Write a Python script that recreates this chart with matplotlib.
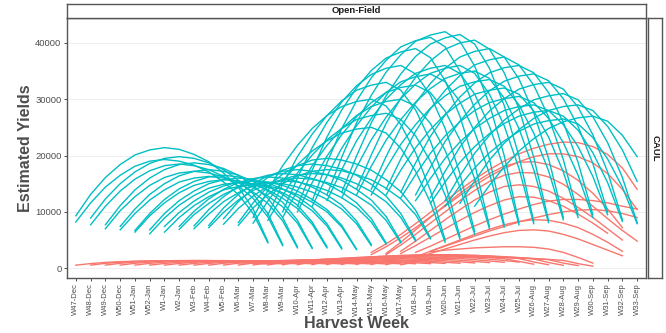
import matplotlib
matplotlib.use("Agg")
import matplotlib.pyplot as plt

weeks = ["W47-Dec","W48-Dec","W49-Dec","W50-Dec","W51-Jan","W52-Jan","W1-Jan","W2-Jan",
         "W3-Feb","W4-Feb","W5-Feb","W6-Mar","W7-Mar","W8-Mar","W9-Mar","W10-Apr","W11-Apr",
         "W12-Apr","W13-Apr","W14-May","W15-May","W16-May","W17-May","W18-Jun","W19-Jun",
         "W20-Jun","W21-Jun","W22-Jul","W23-Jul","W24-Jul","W25-Jul","W26-Aug","W27-Aug",
         "W28-Aug","W29-Aug","W30-Sep","W31-Sep","W32-Sep","W33-Sep"]
y_ticks = [0, 10000, 20000, 30000, 40000]

# ---- teal series (start week, weekly estimated yields) ----
t_w47_a = [9300,13100,16100,18400,20100,21000,21400,21100,20200,18900,16900,14400,10500,4700]
t_w47_b = [8200,11600,14400,16500,18100,19000,19300,19000,18300,17100,15300,13100,9700,4500]
t_w48_a = [8900,12300,15000,17100,18600,19500,19800,19500,18700,17500,15600,13200,9700,4200]
t_w48_b = [7700,11000,13700,15800,17300,18200,18500,18200,17500,16300,14600,12400,9100,4000]
t_w49_a = [7700,11100,13900,16000,17500,18400,18700,18400,17700,16500,14700,12400,9000,3800]
t_w49_b = [7000,10200,12700,14700,16100,16900,17200,16900,16200,15200,13500,11500,8400,3600]
t_w50_a = [7400,10500,13100,15000,16400,17200,17500,17200,16500,15400,13700,11700,8500,3600]
t_w50_b = [6800,9700,12100,13900,15300,16000,16300,16000,15400,14400,12800,10900,8000,3500]
t_w51_a = [6700,9700,12200,14100,15400,16200,16500,16200,15600,14600,13100,11200,8200,3800]
t_w51_b = [6400,9300,11600,13400,14700,15400,15700,15500,14900,13900,12400,10600,7800,3600]
t_w52_a = [6800,9700,12000,13700,15000,15700,16000,15800,15100,14100,12700,10800,7900,3600]
t_w52_b = [6100,8900,11200,12900,14200,14900,15200,15000,14400,13400,12000,10200,7500,3400]
t_w1_a = [7400,9900,11900,13500,14600,15300,15500,15300,14700,13700,12200,10400,7600,3400]
t_w1_b = [6400,9000,11100,12700,13900,14500,14800,14600,14000,13100,11700,10000,7300,3300]
t_w2_a = [7400,10100,12300,14000,15200,15900,16200,16000,15400,14400,13000,11200,8400,4200]
t_w2_b = [6900,9500,11500,13100,14300,15000,15200,15000,14400,13500,12200,10500,7900,4000]
t_w3_a = [7500,10400,12700,14500,15800,16500,16800,16600,15900,15000,13500,11600,8800,4500]
t_w3_b = [7000,9600,11800,13400,14600,15200,15500,15300,14700,13800,12500,10800,8200,4300]
t_w4_a = [7600,10700,13100,15000,16400,17200,17500,17200,16600,15600,14000,12100,9200,4700]
t_w4_b = [7200,9900,12100,13800,15000,15700,16000,15800,15200,14300,12900,11200,8500,4500]
t_w5_a = [8800,11800,14200,16100,17400,18200,18500,18200,17600,16500,14900,12800,9700,5000]
t_w5_b = [7800,10600,12800,14600,15800,16500,16800,16600,16000,15000,13600,11800,9000,4800]
t_w6_a = [8100,11600,14500,16700,18200,19200,19500,19200,18500,17400,15700,13600,10300,5400]
t_w6_b = [7600,10700,13100,15000,16400,17200,17500,17300,16600,15700,14200,12300,9500,5200]
t_w7_a = [9000,13800,18200,21800,24800,27100,28700,29600,30000,28800,25500,20500,13800,5000]
t_w7_b = [8000,11900,15500,18400,20800,22600,24000,24700,25000,24000,21300,17200,11700,4600]
t_w8_a = [9500,14900,19800,23800,27100,29700,31600,32500,33000,31600,28100,22600,15200,5600]
t_w8_b = [8500,12900,16900,20100,22800,24800,26400,27100,27500,26400,23500,19000,13000,5200]
t_w9_a = [10000,16000,21400,25900,29500,32400,34400,35500,36000,34500,30700,24800,16800,6500]
t_w9_b = [9000,13800,18200,21800,24800,27100,28700,29600,30000,28800,25700,20900,14400,6000]
t_w10_a = [11000,17400,23300,28100,32000,35100,37300,38400,39000,37400,33300,27000,18500,7400]
t_w10_b = [10000,15200,19900,23700,26900,29400,31200,32100,32500,31200,27900,22800,15900,7000]
t_w11_a = [12000,18700,24800,29700,33800,36900,39300,40400,41000,39300,35000,28300,19400,7700]
t_w11_b = [11000,16400,21300,25300,28600,31200,33100,34000,34500,33100,29600,24200,16800,7300]
t_w12_a = [13000,19700,25800,30700,34800,37900,40300,41400,42000,40300,35900,29100,20000,8100]
t_w12_b = [12000,17500,22600,26600,30000,32600,34600,35500,36000,34600,30900,25200,17600,7700]
t_w13_a = [13500,19900,25800,30600,34500,37600,39800,40900,41500,39800,35500,28900,19900,8300]
t_w13_b = [12500,17900,22800,26800,30100,32700,34600,35500,36000,34600,30900,25300,17700,7900]
t_w14_a = [14000,20100,25700,30200,33900,36800,38900,40000,40500,38900,34700,28300,19700,8500]
t_w14_b = [13000,18100,22700,26400,29500,31900,33700,34600,35000,33700,30200,24800,17500,8100]
t_w15_a = [14000,19800,25000,29300,32800,35500,37500,38500,39000,37500,33600,27600,19500,9000]
t_w15_b = [13000,17700,22000,25500,28400,30600,32300,33100,33500,32300,29000,24000,17300,8600]
t_w16_a = [14000,19400,24300,28300,31600,34200,36100,37000,37500,36100,32500,26900,19300,9500]
t_w16_b = [13000,17400,21400,24600,27300,29300,30900,31600,32000,30900,27900,23300,17100,9000]
t_w17_a = [13500,18700,23400,27200,30400,32900,34700,35600,36000,34700,31200,25900,18800,9500]
t_w17_b = [12500,16600,20400,23500,26000,28000,29400,30100,30500,29400,26600,22300,16500,9000]
t_w18_a = [13000,17900,22500,26100,29100,31500,33200,34100,34500,33300,30100,25200,18600,10000]
t_w18_b = [12000,15900,19500,22400,24800,26600,28000,28700,29000,28000,25500,21600,16300,9500]
t_w19_a = [12500,17200,21500,25000,27900,30100,31800,32600,33000,31800,28600,23700,17100,8600]
t_w19_b = [11500,15300,18800,21600,23900,25700,27000,27700,28000,27000,24500,20500,15200,8300]
t_w20_a = [12000,16400,20400,23600,26300,28300,29900,30600,31000,29900,26900,22300,16100,8100]
t_w20_b = [11000,14600,17800,20500,22600,24300,25600,26200,26500,25600,23200,19400,14400,7900]
t_w21_a = [11500,15500,19200,22200,24600,26600,28000,28700,29000,28000,25200,21000,15400]
t_w22_a = [11000,14700,18000,20800,23000,24800,26000,26700,27000,26100,23600,19800]

teal_series = [
    ("W47-Dec", t_w47_a), ("W47-Dec", t_w47_b), ("W48-Dec", t_w48_a), ("W48-Dec", t_w48_b),
    ("W49-Dec", t_w49_a), ("W49-Dec", t_w49_b), ("W50-Dec", t_w50_a), ("W50-Dec", t_w50_b),
    ("W51-Jan", t_w51_a), ("W51-Jan", t_w51_b), ("W52-Jan", t_w52_a), ("W52-Jan", t_w52_b),
    ("W1-Jan", t_w1_a), ("W1-Jan", t_w1_b), ("W2-Jan", t_w2_a), ("W2-Jan", t_w2_b),
    ("W3-Feb", t_w3_a), ("W3-Feb", t_w3_b), ("W4-Feb", t_w4_a), ("W4-Feb", t_w4_b),
    ("W5-Feb", t_w5_a), ("W5-Feb", t_w5_b), ("W6-Mar", t_w6_a), ("W6-Mar", t_w6_b),
    ("W7-Mar", t_w7_a), ("W7-Mar", t_w7_b), ("W8-Mar", t_w8_a), ("W8-Mar", t_w8_b),
    ("W9-Mar", t_w9_a), ("W9-Mar", t_w9_b), ("W10-Apr", t_w10_a), ("W10-Apr", t_w10_b),
    ("W11-Apr", t_w11_a), ("W11-Apr", t_w11_b), ("W12-Apr", t_w12_a), ("W12-Apr", t_w12_b),
    ("W13-Apr", t_w13_a), ("W13-Apr", t_w13_b), ("W14-May", t_w14_a), ("W14-May", t_w14_b),
    ("W15-May", t_w15_a), ("W15-May", t_w15_b), ("W16-May", t_w16_a), ("W16-May", t_w16_b),
    ("W17-May", t_w17_a), ("W17-May", t_w17_b), ("W18-Jun", t_w18_a), ("W18-Jun", t_w18_b),
    ("W19-Jun", t_w19_a), ("W19-Jun", t_w19_b), ("W20-Jun", t_w20_a), ("W20-Jun", t_w20_b),
    ("W21-Jun", t_w21_a), ("W22-Jul", t_w22_a),
]

# ---- salmon series: large curves ----
s_big_1 = [2800,4300,6000,7900,9900,11900,13900,15800,17500,19000,20300,21300,22000,22400,22300,21600,20200,17800,14000]
s_big_2 = [2400,3800,5400,7200,9100,11000,12900,14700,16300,17700,18900,19800,20300,20300,19800,18700,16800,14000,10400]
s_big_3 = [2600,4600,6800,9000,11200,13300,15200,16800,18100,18800,18900,18400,17300,15600,13300,10500,7200]
s_big_4 = [2400,4100,6000,8000,10000,12000,13800,15400,16500,17000,16900,16200,14900,13100,11000,8800,6700,4800]
s_big_5 = [3000,4800,6700,8600,10400,12100,13500,14500,14800,14500,13700,12400,10800,9000,7000,5000]
s_big_6 = [2600,4000,5500,7000,8500,9900,11100,12100,12700,12600,12000,11000,9600,8000,6200]
s_big_7 = [2800,3900,5100,6300,7500,8600,9600,10500,11300,11900,12200,12200,12000,11600,11000,10500]
s_big_8 = [3000,3900,4800,5700,6600,7400,8200,8900,9500,10000,10300,10400,10200,9700,9000]
s_big_9 = [2000,3000,4000,5000,6000,6900,7700,8300,8600,8500,8000,7200,6000,4600,3000]
s_big_10 = [1800,2600,3400,4200,5000,5700,6300,6700,6800,6600,6000,5200,4200,3200,2200]
s_big_11 = [2900,3200,3400,3600,3700,3800,3800,3700,3400,2800,1900,900]

# ---- salmon series: small curves (near-zero band) ----
s_w47 = [530,810,1020,1150,1220,1250,1260,1240,1200,1150,1070,970,860,730]
s_w48 = [540,850,1070,1210,1290,1320,1330,1310,1270,1210,1120,1010,890,760]
s_w49 = [540,860,1080,1220,1310,1340,1350,1330,1290,1220,1130,1030,900,770]
s_w50 = [540,860,1080,1220,1310,1340,1350,1330,1290,1220,1130,1030,900,770]
s_w51 = [540,850,1070,1210,1290,1320,1330,1310,1270,1210,1120,1010,890,760]
s_w52 = [540,830,1050,1180,1260,1290,1300,1280,1240,1180,1100,990,880,750]
s_w1 = [540,830,1050,1180,1260,1290,1300,1280,1240,1180,1100,990,880,750]
s_w2 = [540,830,1050,1180,1260,1290,1300,1280,1240,1180,1100,990,880,750]
s_w3 = [540,840,1060,1200,1280,1310,1320,1300,1260,1200,1110,1010,890,750]
s_w4 = [540,860,1080,1220,1310,1340,1350,1330,1290,1220,1130,1030,900,770]
s_w5 = [550,880,1120,1270,1350,1390,1400,1380,1330,1270,1170,1060,930,780]
s_w6 = [550,900,1150,1310,1400,1440,1450,1430,1380,1310,1210,1090,950,800]
s_w7 = [560,950,1220,1400,1500,1540,1550,1530,1470,1400,1290,1150,1000,840]
s_w8 = [570,990,1290,1480,1590,1640,1650,1630,1570,1480,1360,1220,1050,870]
s_w9 = [590,1060,1400,1610,1730,1790,1800,1770,1710,1610,1480,1310,1130,920]
s_w10 = [600,1130,1500,1740,1880,1940,1950,1920,1850,1740,1590,1410,1200,980]
s_w11 = [620,1190,1610,1870,2020,2080,2100,2070,1980,1870,1700,1510,1280,1030]
s_w12 = [630,1260,1710,2000,2160,2230,2250,2210,2120,2000,1820,1600,1350,1080]
s_w13 = [640,1310,1780,2080,2260,2330,2350,2310,2220,2080,1890,1670,1200,700]
s_w14 = [650,1330,1820,2130,2300,2380,2400,2360,2260,2130,1930,1700,1100,600]
s_w15 = [640,1280,1750,2040,2210,2280,2300,2260,2170,2040,1860,1630,1000,500]
s_w16 = [620,1190,1610,1870,2020,2080,2100,2070,1980,1870,1700,1510,900,450]
s_w17 = [600,1100,1470,1700,1830,1890,1900,1870,1800,1700,1550,1380,800,350]

salmon_series = [
    ("W47-Dec", s_w47), ("W48-Dec", s_w48), ("W49-Dec", s_w49), ("W50-Dec", s_w50),
    ("W51-Jan", s_w51), ("W52-Jan", s_w52), ("W1-Jan", s_w1), ("W2-Jan", s_w2),
    ("W3-Feb", s_w3), ("W4-Feb", s_w4), ("W5-Feb", s_w5), ("W6-Mar", s_w6),
    ("W7-Mar", s_w7), ("W8-Mar", s_w8), ("W9-Mar", s_w9), ("W10-Apr", s_w10),
    ("W11-Apr", s_w11), ("W12-Apr", s_w12), ("W13-Apr", s_w13), ("W14-May", s_w14),
    ("W15-May", s_w15), ("W16-May", s_w16), ("W17-May", s_w17),
    ("W15-May", s_big_1), ("W15-May", s_big_2), ("W16-May", s_big_3), ("W16-May", s_big_4),
    ("W17-May", s_big_5), ("W17-May", s_big_6), ("W18-Jun", s_big_7), ("W19-Jun", s_big_8),
    ("W18-Jun", s_big_9), ("W18-Jun", s_big_10), ("W19-Jun", s_big_11),
]

TEAL = "#00BFC4"
SALMON = "#F8766D"
GREY = "#4D4D4D"
FONT = "Liberation Sans"
W, H = 666, 333

fig = plt.figure(figsize=(W / 100, H / 100), dpi=100)
px = lambda x0, y0, x1, y1: [x0 / W, 1 - y1 / H, (x1 - x0) / W, (y1 - y0) / H]
ax = fig.add_axes(px(67, 18, 646, 278))

pos = {w: i for i, w in enumerate(weeks)}
for start, vals in salmon_series:
    s = pos[start]
    ax.plot(range(s, s + len(vals)), vals, color=SALMON, lw=1.0, solid_joinstyle="round")
for start, vals in teal_series:
    s = pos[start]
    ax.plot(range(s, s + len(vals)), vals, color=TEAL, lw=1.0, solid_joinstyle="round")

ax.set_xlim(-0.6, len(weeks) - 1 + 0.6)
ax.set_ylim(-1750, 44430)
ax.set_xticks(range(len(weeks)))
ax.set_xticklabels(weeks, rotation=90, fontsize=5.5, color=GREY, family=FONT)
ax.set_yticks(y_ticks)
ax.set_yticklabels([str(v) for v in y_ticks], fontsize=6.8, color=GREY, family=FONT)
ax.tick_params(axis="both", length=2.5, width=0.6, color="#333333", pad=1.5)
for v in y_ticks:
    ax.axhline(v, color="#EBEBEB", lw=0.6, zorder=0)
for sp in ax.spines.values():
    sp.set_color("#555555")
    sp.set_linewidth(1.0)

ax.set_xlabel("Harvest Week", fontsize=11.5, fontweight="bold", color=GREY, family=FONT, labelpad=0)
ax.set_ylabel("Estimated Yields", fontsize=11.5, fontweight="bold", color=GREY, family=FONT, labelpad=1.5)

top = fig.add_axes(px(67, 3.5, 646, 17.5))
top.set_xticks([]); top.set_yticks([])
for sp in top.spines.values():
    sp.set_color("#555555"); sp.set_linewidth(1.0)
top.text(0.5, 0.5, "Open-Field", ha="center", va="center", fontsize=6.8, fontweight="bold",
         color="#1A1A1A", family=FONT, transform=top.transAxes)

right = fig.add_axes(px(647.5, 18, 662, 278))
right.set_xticks([]); right.set_yticks([])
for sp in right.spines.values():
    sp.set_color("#555555"); sp.set_linewidth(1.0)
right.text(0.5, 0.5, "CAUL", ha="center", va="center", rotation=-90, fontsize=6.8,
           fontweight="bold", color="#1A1A1A", family=FONT, transform=right.transAxes)

fig.savefig("out.png", dpi=100)
